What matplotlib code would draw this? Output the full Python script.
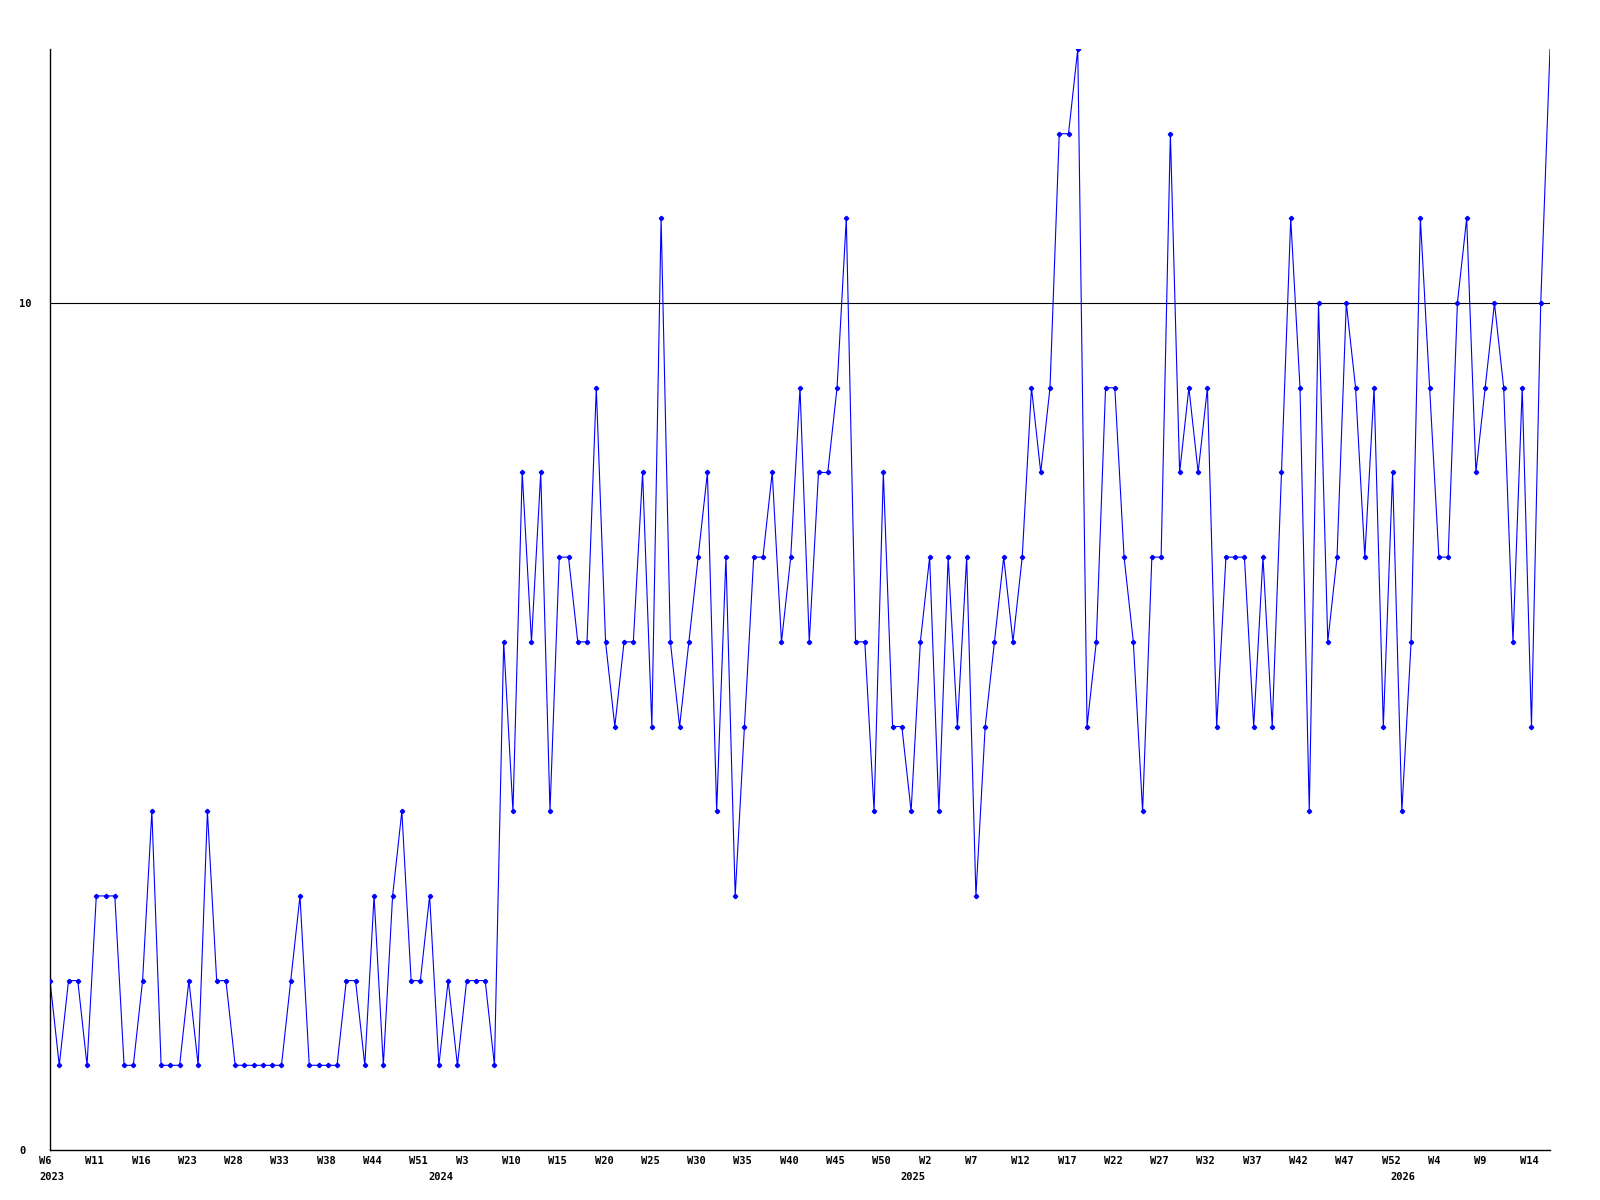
import matplotlib
matplotlib.use('Agg')
import matplotlib.pyplot as plt
from matplotlib.transforms import ScaledTranslation

# weekly counts, 2023 W6 .. 2026 W15 (last week is still running)
values = [2, 1, 2, 2, 1, 3, 3, 3, 1, 1, 2, 4, 1, 1, 1, 2, 1, 4, 2, 2,
          1, 1, 1, 1, 1, 1, 2, 3, 1, 1, 1, 1, 2, 2, 1, 3, 1, 3, 4, 2,
          2, 3, 1, 2, 1, 2, 2, 2, 1,
          6, 4, 8, 6, 8, 4, 7, 7, 6, 6, 9, 6, 5, 6, 6, 8, 5, 11, 6, 5,
          6, 7, 8, 4, 7, 3, 5, 7, 7, 8, 6, 7, 9, 6, 8, 8, 9, 11, 6, 6,
          4, 8, 5, 5, 4, 6, 7, 4, 7, 5, 7, 3, 5, 6, 7, 6, 7, 9, 8, 9,
          12, 12, 13, 5, 6, 9, 9, 7, 6, 4, 7, 7, 12, 8, 9, 8, 9, 5, 7, 7,
          7, 5, 7, 5, 8, 11, 9, 4, 10, 6, 7, 10, 9, 7, 9, 5, 8, 4, 6, 11,
          9, 7, 7, 10, 11, 8, 9, 10, 9, 6, 9, 5, 10, 13]

week_labels = ['W6', 'W11', 'W16', 'W23', 'W28', 'W33', 'W38', 'W44', 'W51',
               'W3', 'W10', 'W15', 'W20', 'W25', 'W30', 'W35', 'W40', 'W45',
               'W50', 'W2', 'W7', 'W12', 'W17', 'W22', 'W27', 'W32', 'W37',
               'W42', 'W47', 'W52', 'W4', 'W9', 'W14']
years = ['2023', '2024', '2025', '2026']
year_pos = [0, 42, 93, 146]

x = list(range(len(values)))
font = dict(family='DejaVu Sans Mono', weight='bold', size=7.5)

fig = plt.figure(figsize=(16, 12), dpi=100)
ax = fig.add_axes([50/1600, 50/1200, 1500/1600, 1101/1200])

ax.axhline(10, color='black', lw=0.8, zorder=1)
ax.plot(x, values, color='#0000ff', lw=0.8, zorder=2)
# no marker on the running week
ax.plot(x[:-1], values[:-1], ls='none', marker='P', ms=2.8,
        color='#0000ff', zorder=3)

ax.set_xlim(0, len(values) - 1)
ax.set_ylim(0, 13)
for s in ['top', 'right']:
    ax.spines[s].set_visible(False)
for s in ['left', 'bottom']:
    ax.spines[s].set_linewidth(1.0)

ax.set_xticks(x[::5][:len(week_labels)])
ax.set_xticklabels(week_labels, **font)
ax.tick_params(axis='x', length=0, pad=4)
shift = ScaledTranslation(-11 / 100, 0, fig.dpi_scale_trans)
for lab in ax.get_xticklabels():
    lab.set_ha('left')
    lab.set_transform(lab.get_transform() + shift)

ax.set_yticks([0, 10])
ax.set_yticklabels(['0', '10'], **font)
ax.tick_params(axis='y', length=0, pad=22)
for lab in ax.get_yticklabels():
    lab.set_ha('left')

for yr, p in zip(years, year_pos):
    ax.annotate(yr, xy=(p, 0), xycoords=('data', 'axes fraction'),
                xytext=(-11 * 0.72, -27 * 0.72), textcoords='offset points',
                ha='left', va='center', **font)

fig.savefig('out.png', dpi=100)
